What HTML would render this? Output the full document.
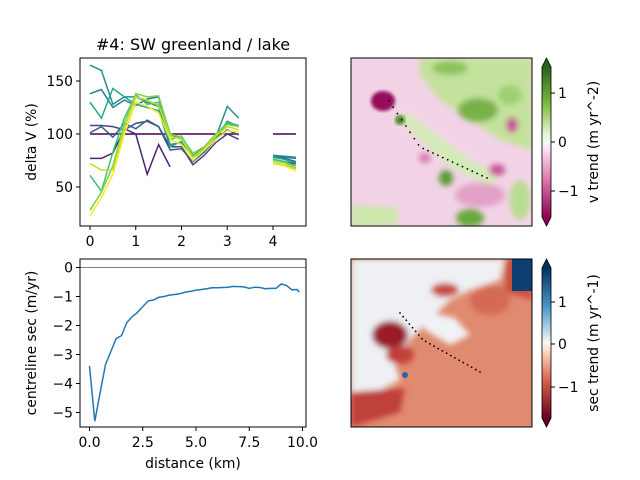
<!DOCTYPE html>
<html><head><meta charset="utf-8"><style>
body{margin:0;background:#fff;}
svg{display:block;font-family:"DejaVu Sans","Liberation Sans",sans-serif;}
</style></head><body>
<svg id="fig" width="640" height="480" viewBox="0 0 640 480">
<defs>
<linearGradient id="piyg" x1="0" y1="1" x2="0" y2="0">
<stop offset="0" stop-color="#8e0152"/><stop offset="0.25" stop-color="#de77ae"/><stop offset="0.45" stop-color="#fde0ef"/><stop offset="0.5" stop-color="#f7f7f7"/><stop offset="0.55" stop-color="#e6f5d0"/><stop offset="0.75" stop-color="#7fbc41"/><stop offset="1" stop-color="#276419"/>
</linearGradient>
<linearGradient id="rdbu" x1="0" y1="1" x2="0" y2="0">
<stop offset="0" stop-color="#67001f"/><stop offset="0.25" stop-color="#d6604d"/><stop offset="0.45" stop-color="#fddbc7"/><stop offset="0.5" stop-color="#f7f7f7"/><stop offset="0.55" stop-color="#d1e5f0"/><stop offset="0.75" stop-color="#4393c3"/><stop offset="1" stop-color="#053061"/>
</linearGradient>
<filter id="blur" x="-10%" y="-10%" width="120%" height="120%"><feGaussianBlur stdDeviation="3"/></filter>
<filter id="blur2"><feGaussianBlur stdDeviation="1.5"/></filter>
<clipPath id="c1"><rect x="351" y="58" width="181" height="168"/></clipPath>
<clipPath id="c2"><rect x="351" y="259" width="181" height="168"/></clipPath>
<clipPath id="c3"><rect x="80" y="58" width="226" height="168"/></clipPath>
<clipPath id="c4"><rect x="80" y="259" width="226" height="168"/></clipPath>
</defs>

<text x="193" y="50" text-anchor="middle" font-size="16">#4: SW greenland / lake</text>
<g id="tl"></g>
<g id="bl"></g>

<!-- top-right map -->
<g clip-path="url(#c1)">
<rect x="351" y="58" width="181" height="168" fill="#f2d3e6"/>
<g filter="url(#blur)">
<path d="M420 58 L532 58 L532 150 L500 140 L470 120 L440 100 L420 75 Z" fill="#c3e29c"/>
<ellipse cx="478" cy="110" rx="20" ry="12" fill="#79b148"/>
<ellipse cx="450" cy="68" rx="18" ry="7" fill="#8cc35a"/>
<ellipse cx="510" cy="95" rx="12" ry="10" fill="#9fcf72"/>
<path d="M405 112 L430 130 L470 160 L500 175 L490 185 L455 170 L420 140 L400 120 Z" fill="#d3ebb6"/>
<ellipse cx="446" cy="178" rx="7" ry="8" fill="#5d9b34"/>
<path d="M351 205 L400 208 L395 226 L351 226 Z" fill="#cde7aa"/>
<ellipse cx="470" cy="218" rx="14" ry="9" fill="#6aa83c"/>
<ellipse cx="520" cy="200" rx="10" ry="20" fill="#b8dc8f"/>
<ellipse cx="480" cy="195" rx="25" ry="12" fill="#e3a0c8"/>
<ellipse cx="497" cy="170" rx="8" ry="6" fill="#c9559a"/>
<ellipse cx="425" cy="158" rx="6" ry="5" fill="#d878b0"/>
<ellipse cx="512" cy="125" rx="6" ry="8" fill="#c9559a"/>
</g>
<ellipse cx="383" cy="101" rx="12" ry="10" fill="#96095c" filter="url(#blur2)"/>
<ellipse cx="400" cy="120" rx="5" ry="5" fill="#4a8f2a" filter="url(#blur2)"/>
</g>
<rect x="351" y="58" width="181" height="168" fill="none" stroke="#000" stroke-width="1"/>
<g fill="#000" id="dots1"></g>

<!-- top colorbar -->
<g>
<rect x="542" y="67" width="9" height="150" fill="url(#piyg)"/>
<polygon points="542,67 551,67 546.5,58" fill="#276419"/>
<polygon points="542,217 551,217 546.5,226" fill="#8e0152"/>
<polygon points="546.5,58 551,67 551,217 546.5,226 542,217 542,67" fill="none" stroke="#000" stroke-width="0.8"/>
<g font-size="13.9"><line x1="551" x2="555" y1="93" y2="93" stroke="#000"/><text x="558" y="98">1</text>
<line x1="551" x2="555" y1="142" y2="142" stroke="#000"/><text x="558" y="147">0</text>
<line x1="551" x2="555" y1="191" y2="191" stroke="#000"/><text x="558" y="196">−1</text></g>
<text transform="translate(598,142) rotate(-90)" text-anchor="middle" font-size="13.9">v trend (m yr^-2)</text>
</g>

<!-- bottom-right map -->
<g clip-path="url(#c2)">
<rect x="351" y="259" width="181" height="168" fill="#e08a6f"/>
<g filter="url(#blur)">
<path d="M351 259 L505 259 L500 280 L470 290 L450 300 L430 320 L420 330 L410 340 L400 350 L395 365 L400 380 L380 390 L351 400 Z" fill="#eef0f3"/>
<path d="M420 310 L455 318 L470 335 L450 345 L425 330 Z" fill="#f0f2f4"/>
<path d="M505 259 L532 259 L532 300 L505 292 Z" fill="#c9503d"/>
<path d="M351 392 L405 388 L400 412 L351 427 Z" fill="#c0403a"/>
<ellipse cx="390" cy="335" rx="18" ry="14" fill="#9a1a2b"/>
<ellipse cx="400" cy="355" rx="14" ry="9" fill="#c23f3a"/>
<ellipse cx="445" cy="290" rx="14" ry="7" fill="#c94c3f"/>
<ellipse cx="490" cy="300" rx="20" ry="15" fill="#d46a52"/>
</g>
<rect x="512" y="259" width="20" height="32" fill="#0d3f72"/>
<ellipse cx="405" cy="375" rx="3" ry="3" fill="#2b65a3"/>
</g>
<rect x="351" y="259" width="181" height="168" fill="none" stroke="#000" stroke-width="1"/>
<g fill="#000" id="dots2"></g>

<!-- bottom colorbar -->
<g>
<rect x="542" y="268" width="9" height="150" fill="url(#rdbu)"/>
<polygon points="542,268 551,268 546.5,259" fill="#053061"/>
<polygon points="542,418 551,418 546.5,427" fill="#67001f"/>
<polygon points="546.5,259 551,268 551,418 546.5,427 542,418 542,268" fill="none" stroke="#000" stroke-width="0.8"/>
<g font-size="13.9"><line x1="551" x2="555" y1="302" y2="302" stroke="#000"/><text x="558" y="307">1</text>
<line x1="551" x2="555" y1="344" y2="344" stroke="#000"/><text x="558" y="349">0</text>
<line x1="551" x2="555" y1="387" y2="387" stroke="#000"/><text x="558" y="392">−1</text></g>
<text transform="translate(598,343) rotate(-90)" text-anchor="middle" font-size="13.9">sec trend (m yr^-1)</text>
</g>
</svg>
<script>
// ---- top-left data ----
const vX = [0,0.25,0.5,0.75,1,1.25,1.5,1.75,2,2.25,2.5,2.75,3,3.25,4,4.25,4.5];
const vColors = ["#440154","#482475","#414487","#355f8d","#2a788e","#21918c","#22a884","#44bf70","#7ad151","#bddf26","#fde725"];
const vS0 = [100,100,100,100,100,100,100,100,100,100,100,100,100,100,100,100,100];
const vS1 = [77,77,82,105,100,62,90,69,null,null,null,null,null,null,null,null,null];
const vS2 = [108,108,107,104,110,112,107,88,88,71,80,92,100,95,76,74,72];
const vS3 = [101,107,97,110,105,113,107,85,86,74,83,95,104,99,78,77,74];
const vS4 = [138,142,125,132,127,133,135,100,95,78,85,95,112,107,79,78,77];
const vS5 = [165,160,128,135,135,130,126,90,92,80,84,97,126,115,80,79,78];
const vS6 = [130,115,143,135,128,125,122,88,93,79,85,97,110,108,78,76,73];
const vS7 = [61,46,83,115,137,128,130,95,98,80,87,99,111,108,76,74,70];
const vS8 = [28,45,70,110,138,135,136,100,97,82,88,100,109,107,75,73,68];
const vS9 = [72,66,66,105,135,132,127,98,95,78,86,98,107,104,73,71,67];
const vS10 = [23,40,62,100,130,126,120,95,90,75,85,95,103,102,72,70,65];
const vSeries = [vS0,vS1,vS2,vS3,vS4,vS5,vS6,vS7,vS8,vS9,vS10];
const vXTicks = [0,1,2,3,4];
const vYTicks = [50,100,150];
// ---- bottom-left data ----
const secX = [0,0.25,0.5,0.75,1,1.25,1.5,1.75,2,2.25,2.5,2.75,3,3.25,3.5,3.75,4,4.25,4.5,4.75,5,5.25,5.5,5.75,6,6.25,6.5,6.75,7,7.25,7.5,7.75,8,8.25,8.5,8.75,9,9.25,9.5,9.75,9.85];
const secY = [-3.4,-5.3,-4.3,-3.35,-2.9,-2.45,-2.35,-1.9,-1.7,-1.55,-1.35,-1.15,-1.12,-1.03,-1.0,-0.95,-0.93,-0.9,-0.85,-0.82,-0.78,-0.76,-0.73,-0.7,-0.7,-0.69,-0.68,-0.65,-0.66,-0.67,-0.72,-0.68,-0.69,-0.73,-0.72,-0.72,-0.57,-0.62,-0.77,-0.76,-0.85];
const secXTicks = [0,2.5,5,7.5,10];
const secXLabels = ["0.0","2.5","5.0","7.5","10.0"];
const secYTicks = [0,-1,-2,-3,-4,-5];
const dotN = 22;

const NS="http://www.w3.org/2000/svg";
function mk(tag,attrs,parent){const e=document.createElementNS(NS,tag);for(const k in attrs)e.setAttribute(k,attrs[k]);parent.appendChild(e);return e;}
const FS=13.9;

const tl=document.getElementById('tl');
const sx1=v=>90+v*45.75;
const sy1=v=>134-(v-100)*1.06;
const lines1=mk('g',{'clip-path':'url(#c3)'},tl);
vSeries.forEach((s,i)=>{
  let d='',pen=false;
  for(let k=0;k<vX.length;k++){
    const v=s[k];
    const brk = k>0 && vX[k]-vX[k-1]>0.3;
    if(v===null||brk){pen=false;}
    if(v===null)continue;
    d+=(pen?'L':'M')+sx1(vX[k]).toFixed(1)+' '+sy1(v).toFixed(1)+' ';pen=true;
  }
  const p=mk('path',{d:d,fill:'none',stroke:vColors[i],'stroke-width':1.5},lines1);
  
  
});
mk('rect',{x:80,y:58,width:226,height:168,fill:'none',stroke:'#000','stroke-width':1},tl);
vXTicks.forEach(t=>{const x=sx1(t);mk('line',{x1:x,x2:x,y1:226,y2:230,stroke:'#000'},tl);
  const tx=mk('text',{x:x,y:246,'text-anchor':'middle','font-size':FS},tl);tx.textContent=t;
  });
vYTicks.forEach(t=>{const y=sy1(t);mk('line',{x1:76,x2:80,y1:y,y2:y,stroke:'#000'},tl);
  const tx=mk('text',{x:73,y:y+5,'text-anchor':'end','font-size':FS},tl);tx.textContent=t;
  });
const yl1=mk('text',{transform:'translate(36,142) rotate(-90)','text-anchor':'middle','font-size':FS},tl);yl1.textContent='delta V (%)';


const bl=document.getElementById('bl');
const sx2=v=>89.5+v*21.3;
const sy2=v=>267.5-v*29;
const g2=mk('g',{'clip-path':'url(#c4)'},bl);
mk('line',{x1:80,x2:306,y1:sy2(0),y2:sy2(0),stroke:'#000','stroke-width':0.6},g2);
let d2='';secX.forEach((x,k)=>{d2+=(k?'L':'M')+sx2(x).toFixed(1)+' '+sy2(secY[k]).toFixed(1)+' ';});
const p2=mk('path',{d:d2,fill:'none',stroke:'#1f77b4','stroke-width':1.5},g2);


mk('rect',{x:80,y:259,width:226,height:168,fill:'none',stroke:'#000','stroke-width':1},bl);
secXTicks.forEach((t,i)=>{const x=sx2(t);mk('line',{x1:x,x2:x,y1:427,y2:431,stroke:'#000'},bl);
  const tx=mk('text',{x:x,y:447,'text-anchor':'middle','font-size':FS},bl);tx.textContent=secXLabels[i];
  });
secYTicks.forEach(t=>{const y=sy2(t);mk('line',{x1:76,x2:80,y1:y,y2:y,stroke:'#000'},bl);
  const tx=mk('text',{x:73,y:y+5,'text-anchor':'end','font-size':FS},bl);tx.textContent=t<0?'−'+(-t):t;
  });
const xl2=mk('text',{x:193,y:468,'text-anchor':'middle','font-size':FS},bl);xl2.textContent='distance (km)';

const yl2=mk('text',{transform:'translate(36,343) rotate(-90)','text-anchor':'middle','font-size':FS},bl);yl2.textContent='centreline sec (m/yr)';


function dots(id,pts){const g=document.getElementById(id);
  for(let i=0;i<dotN;i++){const t=i/(dotN-1);
    let x,y; const a=pts;
    if(t<0.35){const u=t/0.35;x=a[0][0]+(a[1][0]-a[0][0])*u;y=a[0][1]+(a[1][1]-a[0][1])*u;}
    else{const u=(t-0.35)/0.65;x=a[1][0]+(a[2][0]-a[1][0])*u;y=a[1][1]+(a[2][1]-a[1][1])*u;}
    const c=mk('circle',{cx:x.toFixed(1),cy:y.toFixed(1),r:0.9},g);}
}
dots('dots1',[[389,101],[420,147],[487,178]]);
dots('dots2',[[400,313],[423,340],[480,372]]);
</script>
</body></html>
